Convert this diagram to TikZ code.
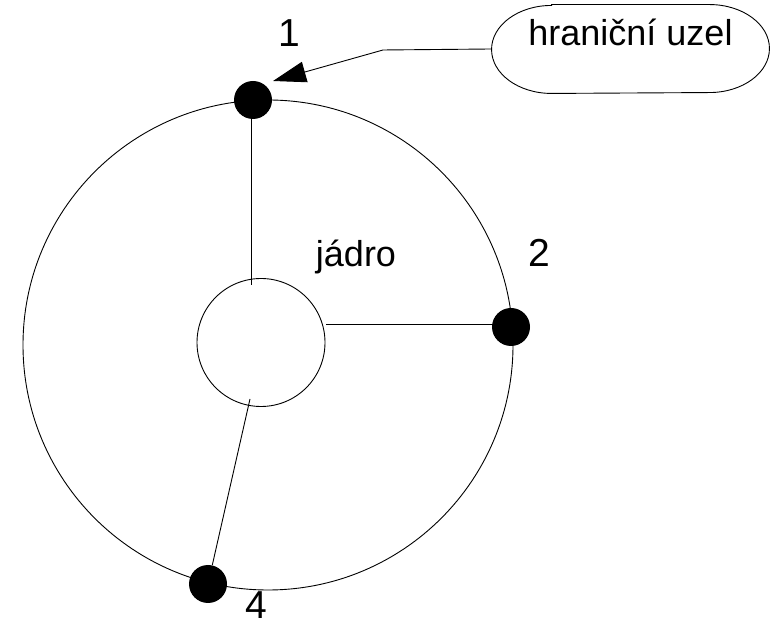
\documentclass[tikz,border=0pt]{standalone}
\usepackage{fontspec}
\setmainfont{Liberation Sans}
\usetikzlibrary{arrows.meta}

\tikzset{
    uzel/.style={circle,fill=black,inner sep=0pt,minimum size=38pt},
    cislo/.style={anchor=base,inner sep=0pt,font=\fontsize{39}{44}\selectfont},
    popis/.style={anchor=base,inner sep=0pt,font=\fontsize{36}{40}\selectfont}
}

\begin{document}
\begin{tikzpicture}[x=1pt,y=1pt,line width=0.9pt]
    \useasboundingbox (0,0) rectangle (770,628);

    \draw (268,283) circle (245);
    \node[circle,draw,inner sep=0pt,minimum size=128pt] (jadro) at (261,285.5) {};

    \node[uzel] (n1) at (253,528) {};
    \node[uzel] (n2) at (511,301) {};
    \node[uzel] (n4) at (208,44) {};

    \coordinate (c1) at (251,343);
    \coordinate (c2) at (326,304);
    \coordinate (c4) at (250,229);
    \draw (c1) -- (c1 |- n1);
    \draw (c2) -- (c2 -| n2);
    \draw (c4) -- (n4);

    \node[cislo] at (289,581) {1};
    \node[cislo] at (539,361) {2};
    \node[cislo] at (256,9) {4};
    \node[popis] at (356,361) {jádro};

    % popisek s sipkou
    \node[minimum width=277pt,minimum height=88pt,text height=26pt,text depth=32pt,
          font=\fontsize{36}{40}\selectfont] (hint) at (630.5,579) {hraniční uzel};
    \draw ([xshift=60pt]hint.north west) -- ([xshift=-60pt]hint.north east)
        arc[start angle=90,end angle=-90,x radius=60,y radius=44]
        -- ([xshift=60pt]hint.south west)
        arc[start angle=270,end angle=90,x radius=60,y radius=44] -- cycle;
    \coordinate (zlom) at (383,578);
    \draw[-{Triangle[length=33pt,width=21pt]}] (hint.west) -- (zlom) -- (273,547);
\end{tikzpicture}
\end{document}
